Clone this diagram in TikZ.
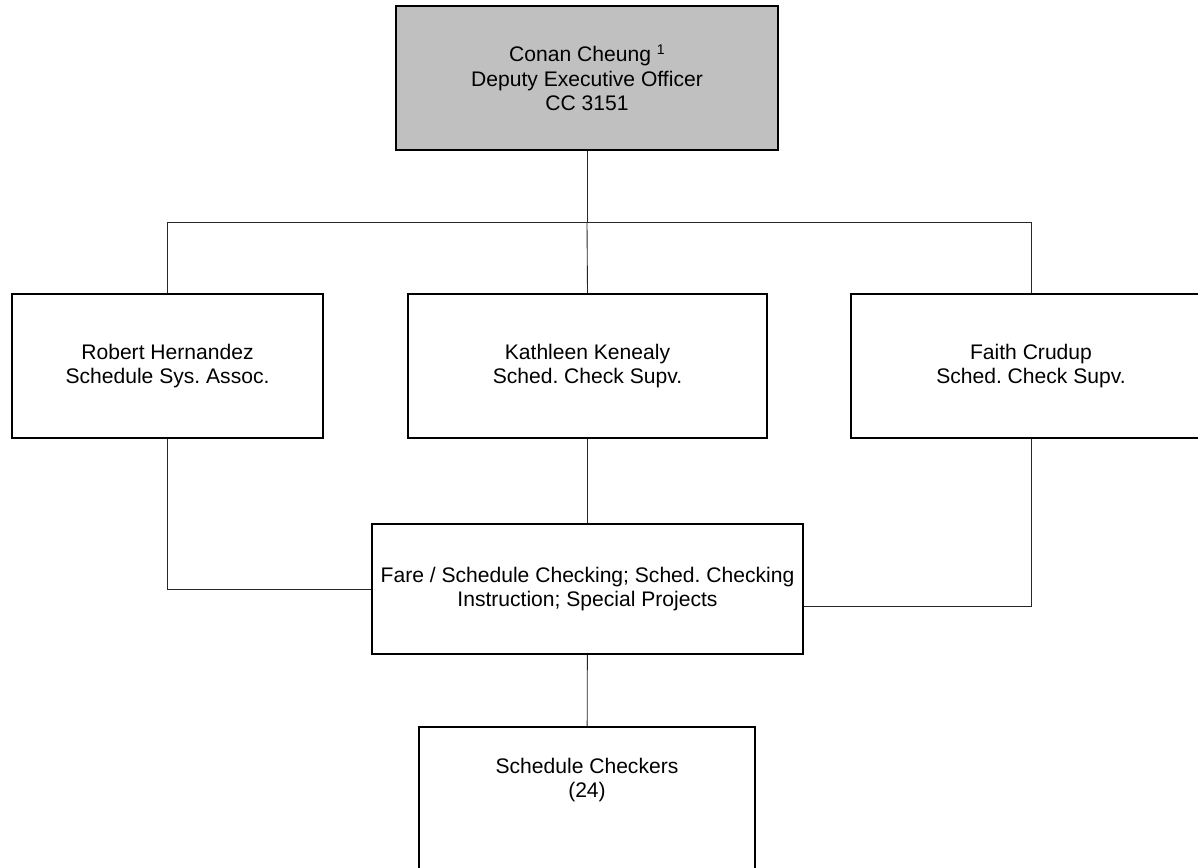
\documentclass[tikz,border=0pt]{standalone}
\usepackage{fontspec}
\setmainfont{Liberation Sans}
\usetikzlibrary{positioning}
\definecolor{boxgray}{HTML}{C0C0C0}
\frenchspacing
\begin{document}
\begin{tikzpicture}[x=0.02cm, y=-0.02cm, font=\fontsize{12}{14}\selectfont]
      \tikzset{box/.style={draw, line width=0.9pt, minimum height=2.88cm, align=center, inner sep=0pt},
               link/.style={draw=black!85, line width=0.5pt}}
      \useasboundingbox (0,0) rectangle (1198,867);
      \clip (0,0) rectangle (1198,867);
      \node[box, fill=boxgray, minimum width=7.64cm] (deo) at (587,78) {Conan Cheung {\fontsize{8}{8}\selectfont\raisebox{0.9ex}{1}}\\Deputy Executive Officer\\CC 3151};
      \coordinate (bus) at (587,222);

      \node[box, minimum width=6.22cm] (rh) at (167.5,366) {Robert Hernandez\\Schedule Sys. Assoc.};
      \node[box, minimum width=7.18cm] (kk) at (587.5,366) {Kathleen Kenealy\\Sched. Check Supv.};
      \node[box, minimum width=7.2cm] (fc) at (1031,366) {Faith Crudup\\Sched. Check Supv.};

      \node[box, minimum width=8.62cm, minimum height=2.6cm] (fare) at (587.5,589) {Fare / Schedule Checking; Sched. Checking\\Instruction; Special Projects};
      \node[box, minimum width=6.72cm, anchor=north] (chk) at (587,726) {};
      \node[align=center, inner sep=0pt] (chktxt) at ([yshift=-1.08cm]chk.north) {Schedule Checkers\\(24)};

      \draw[link] (deo) -- (bus);
      \draw[link] (rh.north) |- (bus) -| (fc.north);
      \draw[link] (bus) -- (kk.north);
      \draw[link] (kk) -- (fare);
      \draw[link] (rh.south) |- (fare.west);
      \draw[link] (fc.south) |- ([yshift=-0.34cm]fare.east);
      \draw[link] (fare) -- (chk);
    \end{tikzpicture}
\end{document}
